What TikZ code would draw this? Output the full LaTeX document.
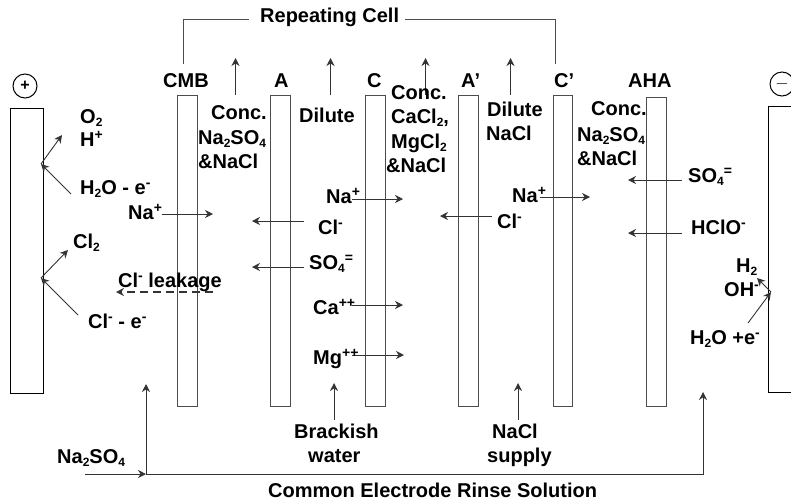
\documentclass[tikz,border=0pt]{standalone}
\usepackage{fontspec}
\setmainfont{Liberation Sans}
\usetikzlibrary{arrows.meta,positioning}
\tikzstyle{arrow} = [line width=0.9pt,draw=black!80,-{Stealth[length=8pt,width=8pt]}]
\tikzstyle{lbl}   = [anchor=base west,inner sep=0pt,font=\fontsize{20}{23}\selectfont\bfseries]
\tikzstyle{plate} = [line width=1pt,draw=black!70]
\tikzstyle{pole}  = [circle,draw,line width=1pt,minimum size=24pt,inner sep=0pt,font=\fontsize{16}{16}\selectfont\bfseries]
\newcommand{\sbs}[1]{\raisebox{-3.5pt}{\fontsize{12}{12}\selectfont #1}}
\newcommand{\sps}[1]{\raisebox{7pt}{\fontsize{14}{14}\selectfont #1}}

\begin{document}
\begin{tikzpicture}[x=1pt,y=-1pt]
        \clip (0,0) rectangle (791,501);
        % electrodes
        \draw[line width=1pt] (10,108) rectangle (43,393);
        \draw[line width=1pt] (768,106) rectangle (810,392);
        \node[pole] (plus) at (25,86) {+};
        \node[pole] (minus) at (782,84) {$-$};
        % membranes
        \foreach \x/\w/\y in {177/20/95,270/20/95,365/20/95,458/20/95,553/19/95,646/20/97}
            \draw[plate] (\x,\y) rectangle (\x+\w,406);
        % membrane names
        \node[lbl] (cmb) at (163,87) {CMB};
        \node[lbl] (mA) at (274,87) {A};
        \node[lbl] (mC) at (367,87) {C};
        \node[lbl] (mAp) at (461,87) {A’};
        \node[lbl] (mCp) at (554,87) {C’};
        \node[lbl] (aha) at (628,87) {AHA};

        % repeating cell bracket
        \node[lbl] (cell) at (260,22) {Repeating Cell};
        \coordinate (bl) at (249,19);
        \coordinate (blend) at (183,64);
        \coordinate (br) at (405,19);
        \coordinate (brend) at (555,64);
        \draw[plate] (bl) -| (blend);
        \draw[plate] (br) -| (brend);

        % outlets
        \foreach \n/\x in {a/235.5,b/330.5,c/425.5,d/510.5} {
            \coordinate (out\n) at (\x,95);
            \coordinate (top\n) at (\x,58);
            \draw[arrow] (out\n) -- (top\n);
        }

        % anode side
        \coordinate (anO) at (41,164);
        \coordinate (anCl) at (41,278);
        \coordinate (tipO) at (62,135);
        \coordinate (tipCl) at (68,250);
        \coordinate (fromW) at (71,194);
        \coordinate (fromCl) at (78,315);
        \draw[arrow] (anO) -- (tipO);
        \draw[arrow] (fromW) -- (anO);
        \draw[arrow] (anCl) -- (tipCl);
        \draw[arrow] (fromCl) -- (anCl);
        \node[lbl] (otwo) at (80,123) {O\sbs{2}};
        \node[lbl] (hplus) at (80,146) {H\sps{+}};
        \node[lbl] (wateran) at (80,194) {H\sbs{2}O - e\sps{-}};
        \node[lbl] (cltwo) at (73,248) {Cl\sbs{2}};
        \node[lbl] (clan) at (88,328) {Cl\sps{-} - e\sps{-}};
        \node[lbl] (leak) at (118,287) {Cl\sps{-} leakage};
        \coordinate (lkA) at (213,292);
        \coordinate (lkB) at (116,292);
        \draw[arrow,line width=1.5pt,dash pattern=on 8pt off 5pt] (lkA) -- (lkB);

        % ion arrows, start/end/height
        \foreach \n/\a/\b/\y in {naA/162/213/214,clA/304/252/221,soA/304/252/267,naC/352/403/199,%
            caC/352/403/305,mgC/352/404/355,clB/492/440/216,naD/540/590/197,soB/682/628/180,hcB/682/628/233} {
            \coordinate (\n s) at (\a,\y);
            \coordinate (\n e) at (\b,\y);
            \draw[arrow] (\n s) -- (\n e);
        }
        \node[lbl] (naone) at (128,219) {Na\sps{+}};
        \node[lbl] (clone) at (318,234) {Cl\sps{-}};
        \node[lbl] (soone) at (309,269) {SO\sbs{4}\sps{=}};
        \node[lbl] (natwo) at (326,203) {Na\sps{+}};
        \node[lbl] (cation) at (313,314) {Ca\sps{++}};
        \node[lbl] (mgion) at (313,364) {Mg\sps{++}};
        \node[lbl] (cltwoion) at (497,228) {Cl\sps{-}};
        \node[lbl] (nathree) at (512,202) {Na\sps{+}};
        \node[lbl] (sotwo) at (688,182) {SO\sbs{4}\sps{=}};
        \node[lbl] (hclo) at (691,234) {HClO\sps{-}};

        % compartments
        \node[lbl] (concA) at (211,119) {Conc.};
        \node[lbl] (concAb) at (198,144) {Na\sbs{2}SO\sbs{4}};
        \node[lbl] (concAc) at (198,168) {\&NaCl};
        \node[lbl] (dilA) at (299,122) {Dilute};
        \node[lbl] (concB) at (391,99) {Conc.};
        \node[lbl] (concBb) at (391,123) {CaCl\sbs{2},};
        \node[lbl] (concBc) at (391,148) {MgCl\sbs{2}};
        \node[lbl] (concBd) at (386,172) {\&NaCl};
        \node[lbl] (dilB) at (487,116) {Dilute};
        \node[lbl] (dilBb) at (486,140) {NaCl};
        \node[lbl] (concC) at (591,115) {Conc.};
        \node[lbl] (concCb) at (577,141) {Na\sbs{2}SO\sbs{4}};
        \node[lbl] (concCc) at (577,165) {\&NaCl};

        % cathode side
        \coordinate (cat) at (771,292);
        \coordinate (tipH) at (757,278);
        \coordinate (fromWc) at (748,323);
        \draw[arrow] (cat) -- (tipH);
        \draw[arrow] (fromWc) -- (cat);
        \node[lbl] (htwo) at (736,272) {H\sbs{2}};
        \node[lbl] (ohion) at (724,296) {OH\sps{-}};
        \node[lbl] (watercat) at (690,344) {H\sbs{2}O +e\sps{-}};

        % feeds
        \coordinate (brA) at (334,420);
        \coordinate (brB) at (334,383);
        \coordinate (nsA) at (518,420);
        \coordinate (nsB) at (518,383);
        \draw[arrow] (brA) -- (brB);
        \draw[arrow] (nsA) -- (nsB);
        \node[lbl] (brack) at (294,438) {Brackish};
        \node[lbl] (brackw) at (308,462) {water};
        \node[lbl] (nacl) at (492,438) {NaCl};
        \node[lbl] (naclb) at (487,462) {supply};

        % rinse loop
        \coordinate (inlet) at (85,474);
        \coordinate (junc) at (146,474);
        \coordinate (upL) at (146,384);
        \coordinate (corner) at (703,474);
        \coordinate (upR) at (703,392);
        \draw[arrow] (inlet) -- (junc);
        \draw[arrow] (junc) -- (upL);
        \draw[arrow] (junc) -- (corner) -- (upR);
        \node[lbl] (feed) at (57,463) {Na\sbs{2}SO\sbs{4}};
        \node[lbl] (rinse) at (268,497) {Common Electrode Rinse Solution};
    \end{tikzpicture}
\end{document}
